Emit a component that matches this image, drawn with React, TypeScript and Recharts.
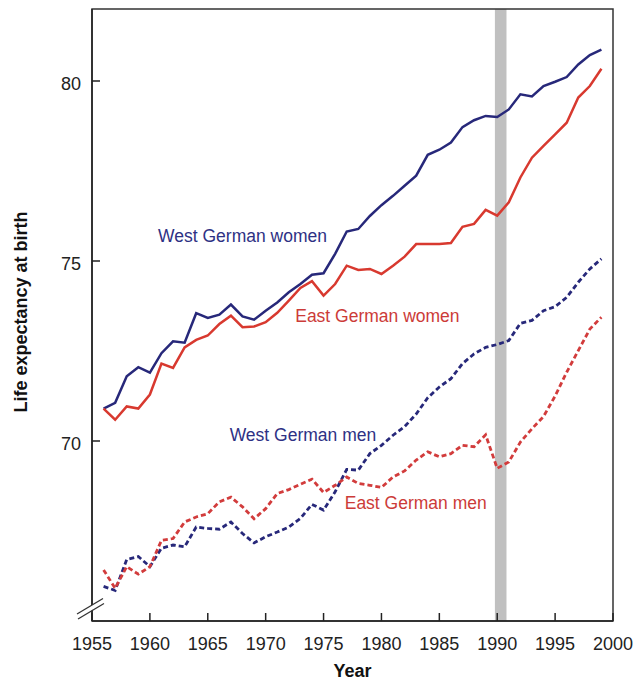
import React from "react";
import {
  LineChart,
  Line,
  XAxis,
  YAxis,
  ReferenceArea,
  ReferenceDot,
} from "recharts";

// Life expectancy at birth, East vs West Germany
const YEARS = [
  1956, 1957, 1958, 1959, 1960, 1961, 1962, 1963, 1964, 1965, 1966,
  1967, 1968, 1969, 1970, 1971, 1972, 1973, 1974, 1975, 1976, 1977,
  1978, 1979, 1980, 1981, 1982, 1983, 1984, 1985, 1986, 1987, 1988,
  1989, 1990, 1991, 1992, 1993, 1994, 1995, 1996, 1997, 1998, 1999,
];

const WEST_WOMEN = [
  70.9, 71.06, 71.8, 72.05, 71.9, 72.44, 72.77, 72.73, 73.55, 73.42, 73.51,
  73.79, 73.46, 73.37, 73.62, 73.85, 74.13, 74.36, 74.62, 74.66, 75.2, 75.82,
  75.89, 76.25, 76.55, 76.81, 77.09, 77.37, 77.95, 78.09, 78.29, 78.72, 78.91,
  79.03, 79.0, 79.21, 79.63, 79.57, 79.86, 79.98, 80.11, 80.46, 80.72, 80.87,
];

const EAST_WOMEN = [
  70.9, 70.59, 70.96, 70.9, 71.29, 72.15, 72.03, 72.6, 72.81, 72.93, 73.25,
  73.48, 73.16, 73.18, 73.3, 73.56, 73.9, 74.25, 74.44, 74.04, 74.36, 74.87,
  74.75, 74.78, 74.64, 74.87, 75.12, 75.47, 75.47, 75.47, 75.5, 75.95, 76.03,
  76.42, 76.26, 76.63, 77.32, 77.87, 78.2, 78.52, 78.84, 79.54, 79.86, 80.34,
];

const WEST_MEN = [
  65.96, 65.85, 66.71, 66.79, 66.51, 67.02, 67.11, 67.06, 67.61, 67.57, 67.55,
  67.75, 67.43, 67.17, 67.34, 67.47, 67.61, 67.85, 68.24, 68.08, 68.59, 69.21,
  69.19, 69.65, 69.88, 70.16, 70.4, 70.75, 71.2, 71.5, 71.73, 72.15, 72.42,
  72.6, 72.68, 72.79, 73.27, 73.35, 73.62, 73.73, 73.99, 74.41, 74.78, 75.06,
];

const EAST_MEN = [
  66.42, 65.91, 66.51, 66.3, 66.51, 67.24, 67.29, 67.75, 67.89, 67.98, 68.31,
  68.44, 68.17, 67.84, 68.12, 68.54, 68.65, 68.8, 68.94, 68.57, 68.77, 69.0,
  68.82, 68.77, 68.71, 69.0, 69.17, 69.47, 69.7, 69.56, 69.65, 69.88, 69.84,
  70.17, 69.24, 69.42, 69.97, 70.34, 70.68, 71.25, 71.91, 72.51, 73.11, 73.44,
];

const X_TICKS = [1955, 1960, 1965, 1970, 1975, 1980, 1985, 1990, 1995, 2000];
const Y_TICKS = [70, 75, 80];

// reunification band
const BAND_START = 1989.8;
const BAND_END = 1990.8;

const BLUE = "#27287a";
const RED = "#d8392f";
const FONT = "'Liberation Sans', Arial, Helvetica, sans-serif";

const SERIES = [
  { key: "ww", color: BLUE, dash: undefined },
  { key: "ew", color: RED, dash: undefined },
  { key: "wm", color: BLUE, dash: "5 3" },
  { key: "em", color: "#d23c3c", dash: "5 3" },
];

// series labels placed in data coordinates (year, value)
const LABELS = [
  { text: "West German women", year: 1968.0, value: 75.7, color: "#2e3184" },
  { text: "East German women", year: 1979.65, value: 73.47, color: "#cc3b38" },
  { text: "West German men", year: 1973.22, value: 70.17, color: "#2e3184" },
  { text: "East German men", year: 1982.96, value: 68.29, color: "#cc3b38" },
];

const data = YEARS.map((year, i) => ({
  year,
  ww: WEST_WOMEN[i],
  ew: EAST_WOMEN[i],
  wm: WEST_MEN[i],
  em: EAST_MEN[i],
}));

const XTick = ({ x, y, payload }: any) => (
  <g>
    <line x1={x} x2={x} y1={y} y2={y - 8} stroke="#222" strokeWidth={1.5} />
    <text
      x={x}
      y={y + 29}
      textAnchor="middle"
      fontSize={18}
      fontFamily={FONT}
      fill="#222"
    >
      {payload.value}
    </text>
  </g>
);

const YTick = ({ x, y, payload }: any) => (
  <g>
    <line x1={x} x2={x + 8} y1={y} y2={y} stroke="#222" strokeWidth={1.5} />
    <text
      x={x - 11}
      y={y + 9}
      textAnchor="end"
      fontSize={18}
      fontFamily={FONT}
      fill="#222"
    >
      {payload.value}
    </text>
  </g>
);

const YTitle = () => (
  <text
    x={27}
    y={312}
    transform="rotate(-90 27 312)"
    textAnchor="middle"
    fontSize={18}
    fontWeight="bold"
    fontFamily={FONT}
    fill="#111"
  >
    Life expectancy at birth
  </text>
);

export default function App() {
  return (
    <div
      style={{
        position: "absolute",
        left: 0,
        top: 0,
        width: 635,
        height: 682,
        background: "#fff",
      }}
    >
      <LineChart
        width={635}
        height={682}
        data={data}
        margin={{ top: 9, right: 22, bottom: 0, left: 0 }}
      >
        <ReferenceArea
          x1={BAND_START}
          x2={BAND_END}
          y1={65}
          y2={82}
          fill="#c0c0c0"
          fillOpacity={1}
          stroke="none"
          ifOverflow="hidden"
        />
        <XAxis
          dataKey="year"
          type="number"
          domain={[1955, 2000]}
          ticks={X_TICKS}
          interval={0}
          height={61}
          tickSize={0}
          tickMargin={0}
          tickLine={false}
          axisLine={{ stroke: "#222", strokeWidth: 1.5 }}
          tick={<XTick />}
          label={{
            value: "Year",
            position: "insideBottom",
            offset: 5,
            fontSize: 18,
            fontWeight: "bold",
            fontFamily: FONT,
            fill: "#111",
          }}
        />
        <YAxis
          type="number"
          domain={[65, 82]}
          ticks={Y_TICKS}
          interval={0}
          width={92}
          tickSize={0}
          tickMargin={0}
          tickLine={false}
          axisLine={{ stroke: "#222", strokeWidth: 1.5 }}
          tick={<YTick />}
          label={<YTitle />}
        />
        {/* frame: top and right border */}
        <ReferenceArea
          x1={1955}
          x2={2000}
          y1={65}
          y2={82}
          fill="none"
          stroke="#333"
          strokeWidth={1.5}
          ifOverflow="visible"
        />
        {SERIES.map((s) => (
          <Line
            key={s.key}
            type="linear"
            dataKey={s.key}
            stroke={s.color}
            strokeWidth={s.dash ? 2.8 : 2.5}
            strokeDasharray={s.dash}
            dot={false}
            activeDot={false}
            isAnimationActive={false}
          />
        ))}
        {LABELS.map((l) => (
          <ReferenceDot
            key={l.text}
            x={l.year}
            y={l.value}
            r={0}
            fill="none"
            stroke="none"
            label={{
              value: l.text,
              position: "center",
              fontSize: 17.5,
              fontFamily: FONT,
              fill: l.color,
            }}
          />
        ))}
      </LineChart>
      {/* axis break marks */}
      <svg
        width={635}
        height={682}
        style={{ position: "absolute", left: 0, top: 0, pointerEvents: "none" }}
      >
        <polygon points="78,614 102,599 102,604 78,619" fill="#fff" />
        <line x1={77} y1={614} x2={103} y2={598.5} stroke="#333" strokeWidth={1.3} />
        <line x1={78} y1={619} x2={104} y2={603.5} stroke="#333" strokeWidth={1.3} />
      </svg>
    </div>
  );
}
